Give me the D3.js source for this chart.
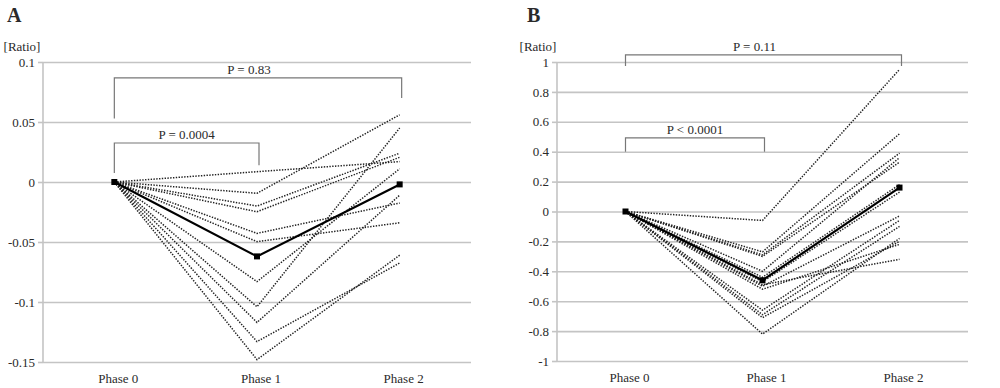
<!DOCTYPE html>
<html>
<head>
<meta charset="utf-8">
<script src="https://cdn.jsdelivr.net/npm/d3@7"></script>
<style>
  body { margin: 0; background: #fff; }
  svg { display: block; }
  text { font-family: "Liberation Serif", "DejaVu Serif", serif; fill: #2a2a2a; }
</style>
</head>
<body>
<div id="chart"></div>
<script>
// paired ratio plots, phase 0 -> 1 -> 2

var phases = ['Phase 0', 'Phase 1', 'Phase 2'];

// panel A: individual subjects (phase 0 is always 0)
var phase1A = [0.0086, -0.0094, -0.020, -0.0248, -0.0428, -0.0497, -0.083, -0.104, -0.117, -0.133, -0.148];
var phase2A = [0.017, 0.056, 0.024, 0.0206, -0.0175, -0.034, 0.011, 0.045, -0.011, -0.0675, -0.061];
var meanA = [0, -0.062, -0.002];
var ticksA = [0.1, 0.05, 0, -0.05, -0.1, -0.15];

// panel B
var phase1B = [-0.06, -0.27, -0.29, -0.30, -0.40, -0.44, -0.47, -0.49, -0.50, -0.52, -0.66, -0.69, -0.71, -0.82];
var phase2B = [0.95, 0.52, 0.39, 0.33, 0.36, 0.18, 0.13, -0.32, -0.03, -0.22, -0.06, -0.10, -0.20, -0.18];
var meanB = [0, -0.46, 0.16];
var ticksB = [1, 0.8, 0.6, 0.4, 0.2, 0, -0.2, -0.4, -0.6, -0.8, -1];

// brackets: from phase, to phase, top value, left leg end, right leg end, label
var bracketsA = [
    ['Phase 0', 'Phase 2', 0.0867, 0.053, 0.070, 'P = 0.83'],
    ['Phase 0', 'Phase 1', 0.0325, 0.0075, 0.014, 'P = 0.0004']
];
var bracketsB = [
    ['Phase 0', 'Phase 2', 1.047, 0.973, 0.973, 'P = 0.11'],
    ['Phase 0', 'Phase 1', 0.493, 0.40, 0.40, 'P < 0.0001']
];

var svg = d3.select('#chart').append('svg')
    .attr('width', 1000)
    .attr('height', 388);

var drawPanel = function(opt){

    var g = svg.append('g');

    var x = d3.scalePoint()
	.domain(phases)
	.range([opt.left, opt.right])
	.padding(0.5);

    var y = d3.scaleLinear()
	.domain([opt.ticks[opt.ticks.length - 1], opt.ticks[0]])
	.range([opt.bottom, opt.top]);

    // gridlines
    g.append('g')
	.attr('transform', 'translate(' + opt.left + ',0)')
	.call(d3.axisLeft(y).tickValues(opt.ticks).tickSize(-(opt.right - opt.left)).tickFormat(''))
	.call(function(a){
	    a.select('.domain').remove();
	    a.selectAll('line').attr('stroke', '#c4c4c4').attr('stroke-width', 1.6);
	});

    // axis with labels
    g.append('g')
	.attr('transform', 'translate(' + opt.left + ',0)')
	.call(d3.axisLeft(y).tickValues(opt.ticks).tickSize(5).tickPadding(3)
	      .tickFormat(function(d){ return String(+d.toFixed(2)); }))
	.call(function(a){
	    a.select('.domain').attr('stroke', '#c4c4c4').attr('stroke-width', 1.6)
		.attr('d', 'M0,' + opt.top + 'V' + opt.bottom);
	    a.selectAll('line').attr('stroke', '#c4c4c4').attr('stroke-width', 1.6);
	    a.selectAll('text').attr('font-size', 13).attr('fill', '#2a2a2a')
		.attr('font-family', '"Liberation Serif", serif');
	});

    // phase labels
    g.selectAll('.phase')
	.data(phases)
	.enter().append('text')
	.attr('x', function(d){ return x(d) + 4; })
	.attr('y', opt.bottom + 21)
	.attr('text-anchor', 'middle')
	.attr('font-size', 13)
	.text(function(d){ return d; });

    // brackets
    opt.brackets.forEach(function(b){
	var x0 = x(b[0]), x1 = x(b[1]) + 2, yt = y(b[2]);
	g.append('path')
	    .attr('d', 'M' + x0 + ',' + y(b[3]) + 'V' + yt + 'H' + x1 + 'V' + y(b[4]))
	    .attr('fill', 'none')
	    .attr('stroke', '#777')
	    .attr('stroke-width', 1.2);
	g.append('text')
	    .attr('x', b[1] == 'Phase 2' ? (x0 + x1) / 2 - 9 : (x0 + x1) / 2)
	    .attr('y', yt - 4)
	    .attr('text-anchor', 'middle')
	    .attr('font-size', 13)
	    .text(b[5]);
    });

    var line = d3.line()
	.x(function(d, i){ return x(phases[i]); })
	.y(function(d){ return y(d); });

    // individual dotted lines
    for(i = 0; i < opt.p1.length; i++){
	g.append('path')
	    .attr('d', line([0, opt.p1[i], opt.p2[i]]))
	    .attr('fill', 'none')
	    .attr('stroke', '#222')
	    .attr('stroke-width', 1.5)
	    .attr('stroke-dasharray', '1.4,1.4');
    }

    // mean line
    g.append('path')
	.attr('d', line(opt.mean))
	.attr('fill', 'none')
	.attr('stroke', '#000')
	.attr('stroke-width', 2.2);

    g.selectAll('.marker')
	.data(opt.mean)
	.enter().append('rect')
	.attr('x', function(d, i){ return x(phases[i]) - 3; })
	.attr('y', function(d){ return y(d) - 3; })
	.attr('width', 6)
	.attr('height', 6)
	.attr('fill', '#000');

    // titles
    g.append('text')
	.attr('x', opt.titleX)
	.attr('y', 22)
	.attr('font-size', 20)
	.attr('font-weight', 'bold')
	.attr('fill', '#111')
	.text(opt.title);

    g.append('text')
	.attr('x', opt.ratioX)
	.attr('y', 51)
	.attr('text-anchor', 'middle')
	.attr('font-size', 13)
	.text('[Ratio]');
};

drawPanel({
    left: 43, right: 471, top: 62, bottom: 362,
    ticks: ticksA, p1: phase1A, p2: phase2A, mean: meanA,
    brackets: bracketsA, title: 'A', titleX: 7, ratioX: 22
});

drawPanel({
    left: 557, right: 968, top: 62, bottom: 361,
    ticks: ticksB, p1: phase1B, p2: phase2B, mean: meanB,
    brackets: bracketsB, title: 'B', titleX: 527, ratioX: 538
});
</script>
</body>
</html>
